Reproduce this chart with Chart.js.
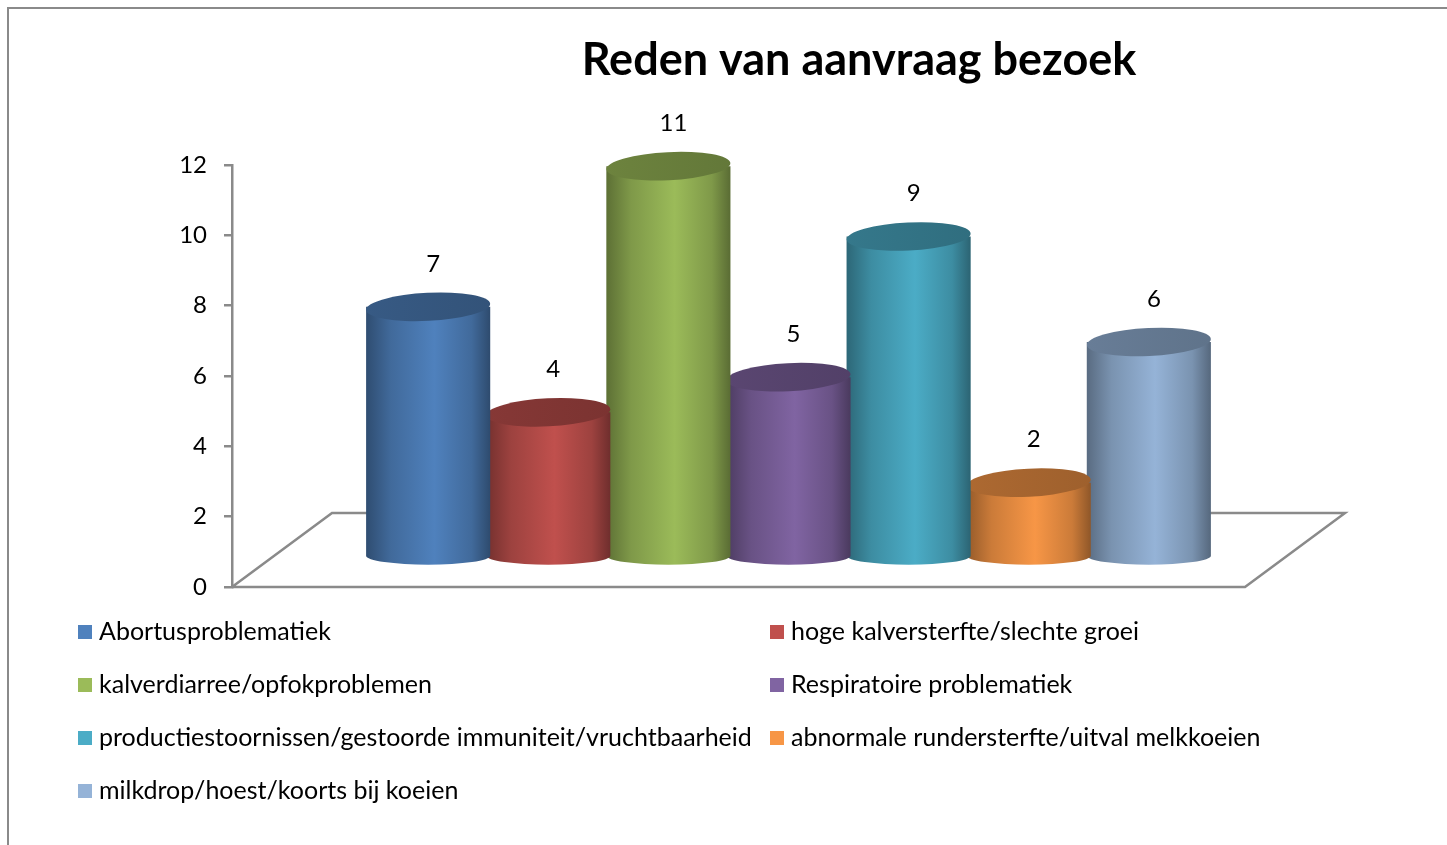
<!DOCTYPE html>
<html>
<head>
<meta charset="utf-8">
<script src="https://cdn.jsdelivr.net/npm/chart.js@4.4.1/dist/chart.umd.min.js"></script>
<style>
  html, body { margin: 0; padding: 0; background: #fff; overflow: hidden; }
  canvas { display: block; }
</style>
</head>
<body>
<canvas id="chart" width="1447" height="845"></canvas>
<script>
const chartTitle = 'Reden van aanvraag bezoek';
const categories = [
  'Abortusproblematiek',
  'hoge kalversterfte/slechte groei',
  'kalverdiarree/opfokproblemen',
  'Respiratoire problematiek',
  'productiestoornissen/gestoorde immuniteit/vruchtbaarheid',
  'abnormale rundersterfte/uitval melkkoeien',
  'milkdrop/hoest/koorts bij koeien'
];
const counts = [7, 4, 11, 5, 9, 2, 6];
const colors = ['#4F81BD', '#C0504D', '#9BBB59', '#8064A2', '#4BACC6', '#F79646', '#95B3D7'];
const yMin = 0;
const yMax = 12;
const yStep = 2;

const FONT = 'Lato, "Open Sans", sans-serif';
const GREY = '#8a8a8a';

// depth of the 3d floor and where the cylinders stand on it
const depthX = 100, depthY = -74;
const barShiftX = 50, barShiftY = -30;

function shade(hex, f) {
  const n = parseInt(hex.slice(1), 16);
  const r = Math.round(((n >> 16) & 255) * f);
  const g = Math.round(((n >> 8) & 255) * f);
  const b = Math.round((n & 255) * f);
  return `rgb(${Math.min(r, 255)}, ${Math.min(g, 255)}, ${Math.min(b, 255)})`;
}

// frame, title, floor
const decorPlugin = {
  id: 'decor',
  beforeDraw(chart) {
    const ctx = chart.ctx;
    ctx.save();
    ctx.fillStyle = '#fff';
    ctx.fillRect(0, 0, chart.width, chart.height);
    ctx.strokeStyle = GREY;
    ctx.lineWidth = 2;
    ctx.beginPath();
    ctx.moveTo(8, chart.height);
    ctx.lineTo(8, 8);
    ctx.lineTo(chart.width, 8);
    ctx.stroke();

    ctx.fillStyle = '#000';
    ctx.font = 'bold 45px ' + FONT;
    ctx.textAlign = 'center';
    ctx.textBaseline = 'middle';
    ctx.fillText(chartTitle, 859, 60);
    ctx.restore();
  },
  beforeDatasetsDraw(chart) {
    const { ctx, chartArea } = chart;
    const y0 = chart.scales.y.getPixelForValue(yMin);
    ctx.save();
    ctx.strokeStyle = GREY;
    ctx.lineWidth = 2.5;
    ctx.beginPath();
    ctx.moveTo(chartArea.left, y0);
    ctx.lineTo(chartArea.left + depthX, y0 + depthY);
    ctx.lineTo(chartArea.right + depthX, y0 + depthY);
    ctx.lineTo(chartArea.right, y0);
    ctx.lineTo(chartArea.left, y0);
    ctx.stroke();
    ctx.restore();
  }
};

// draws every bar as a cylinder from the bar element geometry
const cylinderPlugin = {
  id: 'cylinders',
  afterDatasetsDraw(chart) {
    const ctx = chart.ctx;
    for (let i = chart.data.datasets.length - 1; i >= 0; i--) {
      const el = chart.getDatasetMeta(i).data[0];
      const base = colors[i];
      const rx = el.width / 2 + 2;
      const ry = 14;
      const cx = el.x + barShiftX;
      const left = cx - rx, right = cx + rx;
      const top = el.y + barShiftY - 4;
      const bottom = el.base + barShiftY;

      ctx.save();
      const grad = ctx.createLinearGradient(left, 0, right, 0);
      grad.addColorStop(0, shade(base, 0.6));
      grad.addColorStop(0.2, shade(base, 0.82));
      grad.addColorStop(0.55, shade(base, 1.0));
      grad.addColorStop(0.85, shade(base, 0.82));
      grad.addColorStop(1, shade(base, 0.58));
      ctx.fillStyle = grad;
      ctx.beginPath();
      ctx.moveTo(left, top);
      ctx.lineTo(left, bottom);
      ctx.ellipse(cx, bottom, rx, 9, 0, Math.PI, 0, true);
      ctx.lineTo(right, top);
      ctx.closePath();
      ctx.fill();

      const topGrad = ctx.createLinearGradient(left, 0, right, 0);
      topGrad.addColorStop(0, shade(base, 0.7));
      topGrad.addColorStop(1, shade(base, 0.64));
      ctx.fillStyle = topGrad;
      ctx.beginPath();
      ctx.ellipse(cx, top, rx, ry, -0.05, 0, Math.PI * 2);
      ctx.fill();

      ctx.fillStyle = '#000';
      ctx.font = '24px ' + FONT;
      ctx.textAlign = 'center';
      ctx.textBaseline = 'middle';
      ctx.fillText(String(counts[i]), cx + 5, top - 43);
      ctx.restore();
    }
  }
};

// two-column legend like the Excel original
const legendPlugin = {
  id: 'twoColLegend',
  afterDraw(chart) {
    const ctx = chart.ctx;
    const colX = [78, 770];
    const rowY0 = 632, rowGap = 53;
    ctx.save();
    ctx.font = '25px ' + FONT;
    ctx.textBaseline = 'middle';
    ctx.textAlign = 'left';
    chart.data.datasets.forEach((ds, i) => {
      const x = colX[i % 2];
      const y = rowY0 + Math.floor(i / 2) * rowGap;
      ctx.fillStyle = colors[i];
      ctx.fillRect(x, y - 7, 14, 14);
      ctx.fillStyle = '#000';
      ctx.fillText(ds.label, x + 21, y);
    });
    ctx.restore();
  }
};

new Chart(document.getElementById('chart'), {
  type: 'bar',
  data: {
    labels: [''],
    datasets: categories.map((c, i) => ({
      label: c,
      data: [counts[i]],
      backgroundColor: 'rgba(0,0,0,0)',
      borderWidth: 0
    }))
  },
  options: {
    responsive: false,
    animation: false,
    categoryPercentage: 0.83,
    barPercentage: 1,
    layout: { padding: { top: 165, right: 202, bottom: 258, left: 0 } },
    plugins: {
      legend: { display: false },
      tooltip: { enabled: false }
    },
    scales: {
      x: { display: false },
      y: {
        min: yMin,
        max: yMax,
        afterFit(scale) { scale.width = 232; },
        ticks: {
          stepSize: yStep,
          color: '#000',
          padding: 17,
          font: { family: FONT, size: 24 }
        },
        grid: { drawOnChartArea: false, tickLength: 8, color: GREY, lineWidth: 2.5 },
        border: { color: GREY, width: 2.5 }
      }
    }
  },
  plugins: [decorPlugin, cylinderPlugin, legendPlugin]
});
</script>
</body>
</html>
